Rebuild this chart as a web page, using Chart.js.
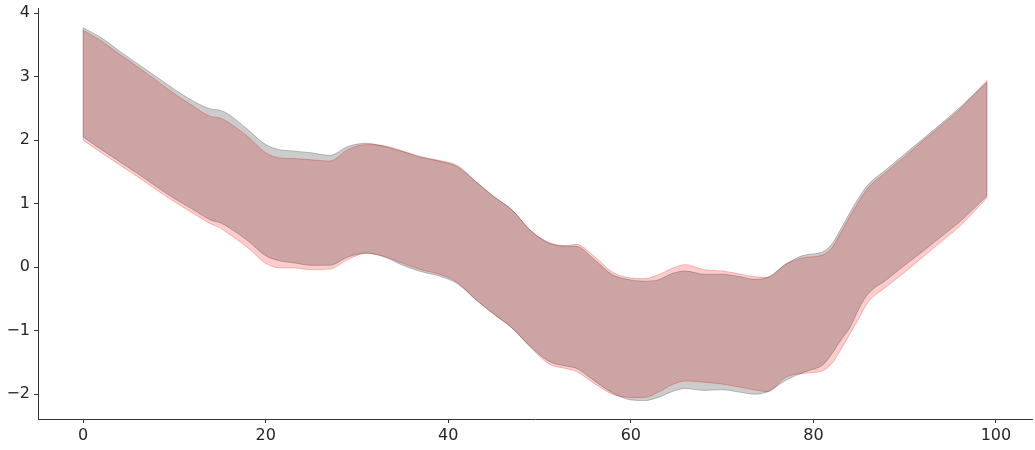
<!DOCTYPE html>
<html>
<head>
<meta charset="utf-8">
<script src="https://cdn.jsdelivr.net/npm/chart.js@4.4.1/dist/chart.umd.min.js"></script>
<style>
  html, body { margin: 0; padding: 0; background: #ffffff; }
  #wrap { width: 1035px; height: 450px; position: relative; }
</style>
</head>
<body>
<div id="wrap"><canvas id="c"></canvas></div>
<script>
// ---- data ----
const xs = [0, 2, 4, 6, 8, 10, 12, 14, 15, 16, 18, 20, 21.5, 23, 25, 27, 29, 31, 33, 35, 37, 39, 41, 43, 45, 47, 49, 51, 53, 54, 56, 58, 60, 61.5, 63, 64.5, 66, 68, 70, 72, 73.5, 75, 77, 79, 81, 82, 83, 84, 85, 86, 88, 90, 92, 94, 96, 99];

const grayUpper = [3.77, 3.61, 3.40, 3.20, 3.00, 2.80, 2.62, 2.49, 2.47, 2.40, 2.17, 1.93, 1.85, 1.83, 1.80, 1.76, 1.90, 1.95, 1.90, 1.82, 1.73, 1.67, 1.58, 1.35, 1.11, 0.90, 0.58, 0.38, 0.33, 0.33, 0.12, -0.12, -0.20, -0.22, -0.20, -0.10, -0.06, -0.11, -0.11, -0.15, -0.19, -0.16, 0.05, 0.19, 0.24, 0.36, 0.60, 0.86, 1.10, 1.30, 1.54, 1.78, 2.02, 2.26, 2.51, 2.91];
const grayLower = [2.05, 1.85, 1.66, 1.47, 1.27, 1.08, 0.91, 0.74, 0.70, 0.62, 0.42, 0.18, 0.10, 0.07, 0.03, 0.03, 0.16, 0.22, 0.16, 0.03, -0.07, -0.14, -0.26, -0.51, -0.74, -0.96, -1.25, -1.48, -1.56, -1.59, -1.79, -1.98, -2.09, -2.10, -2.05, -1.96, -1.91, -1.94, -1.93, -1.97, -2.00, -1.96, -1.78, -1.65, -1.54, -1.37, -1.15, -0.95, -0.65, -0.42, -0.20, 0.03, 0.25, 0.48, 0.71, 1.12];
const redUpper = [3.73, 3.56, 3.35, 3.15, 2.94, 2.73, 2.54, 2.37, 2.35, 2.27, 2.06, 1.80, 1.72, 1.71, 1.69, 1.67, 1.85, 1.93, 1.91, 1.83, 1.74, 1.68, 1.60, 1.35, 1.11, 0.90, 0.58, 0.39, 0.34, 0.36, 0.17, -0.08, -0.17, -0.18, -0.12, -0.02, 0.04, -0.04, -0.06, -0.11, -0.15, -0.16, 0.05, 0.15, 0.19, 0.30, 0.54, 0.80, 1.04, 1.25, 1.50, 1.74, 1.99, 2.23, 2.48, 2.94];
const redLower = [2.00, 1.80, 1.61, 1.42, 1.22, 1.03, 0.85, 0.68, 0.62, 0.52, 0.31, 0.06, -0.01, -0.01, -0.04, -0.03, 0.12, 0.22, 0.17, 0.06, -0.04, -0.11, -0.24, -0.51, -0.74, -0.96, -1.26, -1.52, -1.60, -1.64, -1.83, -2.00, -2.05, -2.05, -1.97, -1.85, -1.79, -1.81, -1.84, -1.89, -1.93, -1.96, -1.73, -1.67, -1.63, -1.52, -1.30, -1.05, -0.80, -0.55, -0.31, -0.08, 0.16, 0.40, 0.64, 1.09];

const xTicks = [0, 20, 40, 60, 80, 100];
const yTicks = [-2, -1, 0, 1, 2, 3, 4];

const toPts = (arr) => arr.map((v, i) => ({ x: xs[i], y: v }));
const last = xs.length - 1;
const edgePts = (lo, hi, i) => [{ x: xs[i], y: lo[i] }, { x: xs[i], y: hi[i] }];
const fmt = (v) => (v < 0 ? '\u2212' + Math.abs(v) : String(v));

const GRAY_FILL = 'rgba(0,0,0,0.2)';
const GRAY_EDGE = 'rgba(0,0,0,0.22)';
const RED_FILL = 'rgba(255,0,0,0.2)';
const RED_EDGE = 'rgba(230,0,0,0.25)';
const AXIS = '#333333';
const TXT = '#262626';

const lineCommon = {
  pointRadius: 0,
  borderWidth: 1,
  cubicInterpolationMode: 'monotone',
};
const edgeCommon = { pointRadius: 0, borderWidth: 1, fill: false, tension: 0 };

new Chart(document.getElementById('c'), {
  type: 'line',
  data: {
    datasets: [
      Object.assign({ label: 'gray upper', data: toPts(grayUpper), borderColor: GRAY_EDGE, backgroundColor: GRAY_FILL, fill: '+1' }, lineCommon),
      Object.assign({ label: 'gray lower', data: toPts(grayLower), borderColor: GRAY_EDGE, backgroundColor: GRAY_FILL, fill: false }, lineCommon),
      Object.assign({ label: 'red upper', data: toPts(redUpper), borderColor: RED_EDGE, backgroundColor: RED_FILL, fill: '+1' }, lineCommon),
      Object.assign({ label: 'red lower', data: toPts(redLower), borderColor: RED_EDGE, backgroundColor: RED_FILL, fill: false }, lineCommon),
      Object.assign({ label: 'gray start', data: edgePts(grayLower, grayUpper, 0), borderColor: GRAY_EDGE }, edgeCommon),
      Object.assign({ label: 'gray end', data: edgePts(grayLower, grayUpper, last), borderColor: GRAY_EDGE }, edgeCommon),
      Object.assign({ label: 'red start', data: edgePts(redLower, redUpper, 0), borderColor: RED_EDGE }, edgeCommon),
      Object.assign({ label: 'red end', data: edgePts(redLower, redUpper, last), borderColor: RED_EDGE }, edgeCommon),
    ]
  },
  options: {
    responsive: true,
    maintainAspectRatio: false,
    animation: false,
    events: [],
    layout: { padding: { top: 8, right: 3, left: 0, bottom: 0 } },
    plugins: {
      legend: { display: false },
      tooltip: { enabled: false },
      filler: { propagate: false }
    },
    scales: {
      x: {
        type: 'linear',
        min: -4.95,
        max: 103.95,
        afterBuildTicks: (s) => { s.ticks = xTicks.map(v => ({ value: v })); },
        afterFit: (s) => { s.height = 31; s.paddingLeft = 0; s.paddingRight = 0; },
        grid: { display: true, drawOnChartArea: false, drawTicks: true, tickLength: 4, color: AXIS, lineWidth: 1 },
        border: { display: true, color: AXIS, width: 1 },
        ticks: {
          color: TXT, padding: 3,
          font: { family: 'DejaVu Sans', size: 16 },
          maxRotation: 0, autoSkip: false,
          callback: (v) => fmt(v)
        }
      },
      y: {
        type: 'linear',
        min: -2.39,
        max: 4.08,
        afterBuildTicks: (s) => { s.ticks = yTicks.map(v => ({ value: v })); },
        afterFit: (s) => { s.width = 38; s.paddingTop = 0; s.paddingBottom = 0; },
        grid: { display: true, drawOnChartArea: false, drawTicks: true, tickLength: 4, color: AXIS, lineWidth: 1 },
        border: { display: true, color: AXIS, width: 1 },
        ticks: {
          color: TXT, padding: 4,
          font: { family: 'DejaVu Sans', size: 16 },
          autoSkip: false,
          callback: (v) => fmt(v)
        }
      }
    }
  }
});
</script>
</body>
</html>
